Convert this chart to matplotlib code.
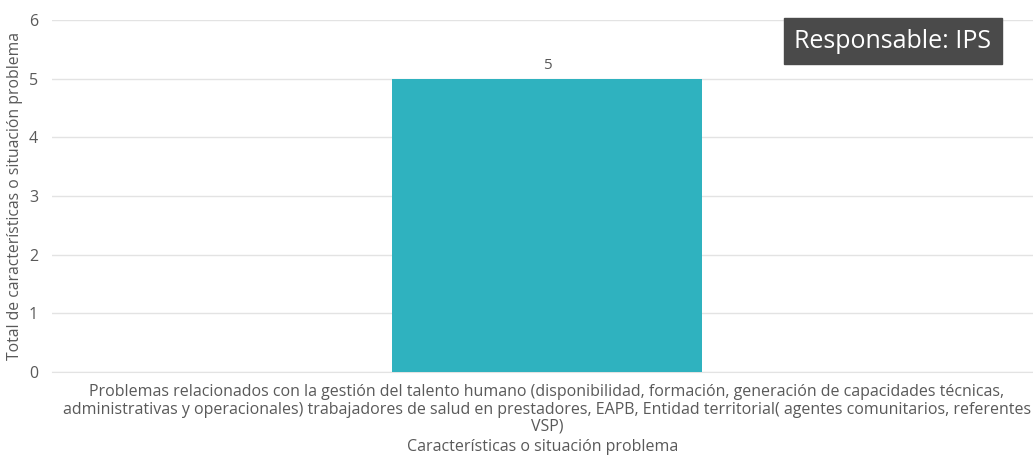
import matplotlib
matplotlib.use('Agg')
import matplotlib.pyplot as plt

plt.rcParams['font.family'] = ['Open Sans', 'DejaVu Sans']

categories = ["Problemas relacionados con la gestión del talento humano (disponibilidad, formación, generación de capacidades técnicas,\n"
              "administrativas y operacionales) trabajadores de salud en prestadores, EAPB, Entidad territorial( agentes comunitarios, referentes\n"
              "VSP)"]
values = [5]
bar_color = '#2fb2bf'
text_color = '#595959'

fig = plt.figure(figsize=(10.33, 4.57), dpi=100)
ax = fig.add_axes([0.0503, 0.186, 0.9497, 0.770])

bars = ax.bar(range(len(values)), values, width=0.316, color=bar_color, zorder=3)
for b, v in zip(bars, values):
    ax.text(b.get_x() + b.get_width() / 2, v + 0.1, str(v), ha='center', va='bottom',
            fontsize=11, color=text_color)

ax.set_xlim(-0.5046, 0.4954)
ax.set_ylim(0, 6)
ax.set_yticks(range(0, 7))
ax.set_xticks(range(len(categories)))
ax.set_xticklabels(categories, fontsize=11.5, color=text_color, linespacing=1.1)
ax.tick_params(axis='y', labelsize=11.5, colors=text_color, length=0, pad=10)
ax.tick_params(axis='x', length=0, pad=9)
ax.grid(axis='y', color='#e3e3e3', linewidth=1, zorder=0)
for s in ['top', 'right', 'left']:
    ax.spines[s].set_visible(False)
ax.spines['bottom'].set_color('#e3e3e3')

ax.set_ylabel('Total de características o situación problema', fontsize=11.3, color=text_color, labelpad=4)
ax.set_xlabel('Características o situación problema', fontsize=11.5, color=text_color, labelpad=3)

fig.text(0.8645, 0.910, 'Responsable: IPS', ha='center', va='center', fontsize=18, color='white',
         bbox=dict(boxstyle='square,pad=0.42', facecolor='#4a4a4a', edgecolor='#4a4a4a'))

fig.savefig('out.png', dpi=100)
